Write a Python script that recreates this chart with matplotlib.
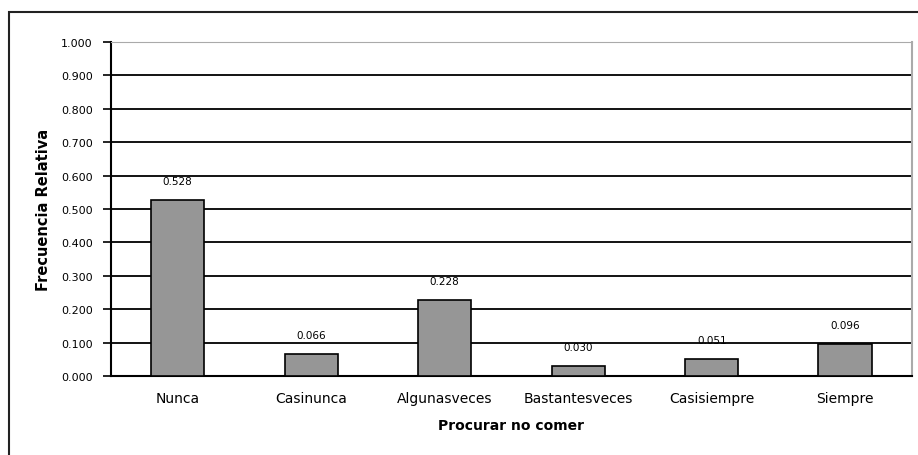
import matplotlib
matplotlib.use("Agg")
import matplotlib.pyplot as plt
from matplotlib.patches import Rectangle

# -------------------------------------------------------
# Données
# -------------------------------------------------------

categorias = ["Nunca", "Casinunca", "Algunasveces", "Bastantesveces", "Casisiempre", "Siempre"]
frecuencias = [0.528, 0.066, 0.228, 0.030, 0.051, 0.096]
y_ticks = [0.0, 0.1, 0.2, 0.3, 0.4, 0.5, 0.6, 0.7, 0.8, 0.9, 1.0]

plt.rcParams["font.family"] = ["DejaVu Sans"]

# -------------------------------------------------------
# Graphique
# -------------------------------------------------------

fig = plt.figure(figsize=(9.18, 4.56), dpi=100)
ax = fig.add_axes([0.1209, 0.1732, 0.8725, 0.7325])

# cadre extérieur
fig.patches.append(Rectangle((9 / 918, -0.05), 1.2, (456 - 13) / 456 + 0.05,
                             transform=fig.transFigure, fill=False,
                             edgecolor="#222222", linewidth=1.5, clip_on=False))

x = range(len(categorias))
ax.bar(x, frecuencias, width=0.4, color="#969696", edgecolor="black",
       linewidth=1.2, zorder=3)

for xi, v in zip(x, frecuencias):
    ax.text(xi, v + 0.042, f"{v:.3f}", ha="center", va="bottom", fontsize=7.5)

ax.set_xlim(-0.5, len(categorias) - 0.5)
ax.set_ylim(0, 1.0)
ax.set_yticks(y_ticks)
ax.set_yticklabels([f"{t:.3f}" for t in y_ticks], fontsize=8)
ax.set_xticks(list(x))
ax.set_xticklabels(categorias, fontsize=10)
ax.tick_params(axis="x", length=0, pad=11)
ax.tick_params(axis="y", length=6, width=1.2, direction="out", pad=7)

ax.yaxis.grid(True, color="black", linewidth=1.3, zorder=0)
ax.set_axisbelow(True)

ax.spines["left"].set_linewidth(1.5)
ax.spines["bottom"].set_linewidth(1.5)
ax.spines["top"].set_color("#aaaaaa")
ax.spines["right"].set_color("#aaaaaa")
ax.spines["right"].set_linewidth(1.5)

ax.set_xlabel("Procurar no comer", fontsize=10, fontweight="bold", labelpad=9)
ax.set_ylabel("Frecuencia Relativa", fontsize=10.5, fontweight="bold", labelpad=7)

plt.savefig("out.png", dpi=100)
